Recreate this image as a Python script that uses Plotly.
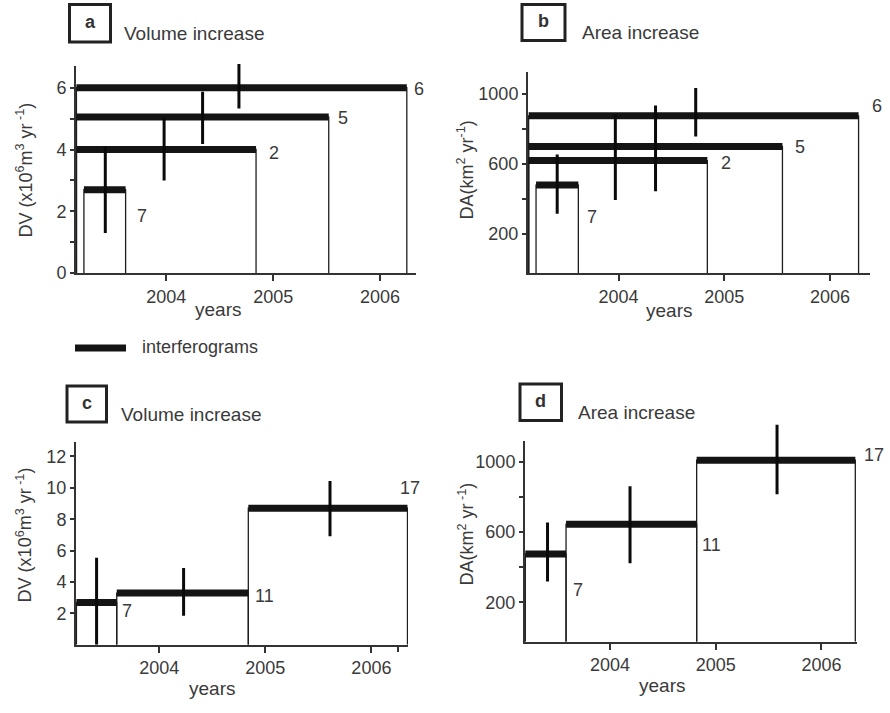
import plotly.graph_objects as go

# ---------------- data ----------------
# Panel a: volume increase, individual interferograms
a_labels = ["7", "2", "5", "6"]
a_start = [2003.23, 2003.16, 2003.16, 2003.16]
a_end = [2003.62, 2004.84, 2005.52, 2006.25]
a_value = [2.7, 4.0, 5.05, 6.0]
a_err_x = [2003.43, 2003.98, 2004.34, 2004.68]
a_err_low = [1.3, 3.0, 4.18, 5.33]
a_err_high = [4.1, 5.03, 5.87, 6.77]

# Panel b: area increase, individual interferograms
b_labels = ["7", "2", "5", "6"]
b_start = [2003.22, 2003.15, 2003.15, 2003.15]
b_end = [2003.62, 2004.84, 2005.55, 2006.27]
b_value = [480, 620, 700, 875]
b_err_x = [2003.42, 2003.97, 2004.35, 2004.73]
b_err_low = [316, 395, 445, 757]
b_err_high = [655, 881, 934, 1033]

# Panel c: volume increase, successive periods
c_labels = ["7", "11", "17"]
c_start = [2003.22, 2003.60, 2004.84]
c_end = [2003.60, 2004.84, 2006.34]
c_value = [2.7, 3.3, 8.7]
c_err_x = [2003.41, 2004.23, 2005.61]
c_err_low = [0.0, 1.85, 6.92]
c_err_high = [5.55, 4.9, 10.44]

# Panel d: area increase, successive periods
d_labels = ["7", "11", "17"]
d_start = [2003.2, 2003.585, 2004.82]
d_end = [2003.585, 2004.82, 2006.32]
d_value = [475, 645, 1010]
d_err_x = [2003.41, 2004.19, 2005.58]
d_err_low = [318, 422, 816]
d_err_high = [655, 862, 1212]

year_ticks = [2004, 2005, 2006]
a_yticks = [0, 2, 4, 6]
b_yticks = [200, 600, 1000]
c_yticks = [2, 4, 6, 8, 10, 12]
d_yticks = [200, 600, 1000]

# ---------------- layout helpers ----------------
W, H = 890, 713
TXT = "#3a3a3a"
LN = "#1e1e1e"
FONT = "Liberation Sans, Arial, sans-serif"


def px_x(p):
    return p / W


def px_y(p):
    return 1 - p / H


EXT = 30  # extra pixels above each panel for error bars that overshoot

panels = [
    dict(key="a", labels=a_labels, start=a_start, end=a_end, value=a_value,
         ex=a_err_x, elo=a_err_low, ehi=a_err_high,
         xd=(76, 416), yd=(277, 67), xr=(2003.156, 2006.336), yr=(0, 6.70),
         yt=a_yticks, ym=[1, 3, 5],
         shifts=[(16, -26), (18, -3), (14, -1), (12, -1)]),
    dict(key="b", labels=b_labels, start=b_start, end=b_end, value=b_value,
         ex=b_err_x, elo=b_err_low, ehi=b_err_high,
         xd=(528, 870), yd=(277, 73), xr=(2003.144, 2006.378), yr=(-22, 1125),
         yt=b_yticks, ym=[400, 800],
         shifts=[(14, -32), (19, -2), (18, 0), (18, 10)]),
    dict(key="c", labels=c_labels, start=c_start, end=c_end, value=c_value,
         ex=c_err_x, elo=c_err_low, ehi=c_err_high,
         xd=(76, 408), yd=(654, 448), xr=(2003.216, 2006.345), yr=(0, 12.94),
         yt=c_yticks, ym=[],
         shifts=[(10, -9), (16, -3), (3, 20)]),
    dict(key="d", labels=d_labels, start=d_start, end=d_end, value=d_value,
         ex=d_err_x, elo=d_err_low, ehi=d_err_high,
         xd=(525, 857), yd=(651, 447), xr=(2003.197, 2006.336), yr=(-26, 1121),
         yt=d_yticks, ym=[400, 800],
         shifts=[(12, -36), (15, -21), (19, 5)]),
]

fig = go.Figure()
annotations = []
shapes = []

for i, p in enumerate(panels):
    n = "" if i == 0 else str(i + 1)
    ne = str(i + 5)
    xa, ya, yext = "x" + n, "y" + n, "y" + ne
    base = p["yr"][0]
    for s, e, v in zip(p["start"], p["end"], p["value"]):
        fig.add_trace(go.Scatter(x=[s, s, e, e], y=[base, v, v, base], mode="lines",
                                 line=dict(color=LN, width=1.3), xaxis=xa, yaxis=ya,
                                 showlegend=False, hoverinfo="skip"))
    for s, e, v in zip(p["start"], p["end"], p["value"]):
        fig.add_trace(go.Scatter(x=[s, e], y=[v, v], mode="lines",
                                 line=dict(color="#141414", width=7), xaxis=xa, yaxis=ya,
                                 showlegend=False, hoverinfo="skip"))
    # error bars on an invisible, taller copy of the y scale (so they are not clipped)
    for x, lo, hi in zip(p["ex"], p["elo"], p["ehi"]):
        fig.add_trace(go.Scatter(x=[x, x], y=[lo, hi], mode="lines",
                                 line=dict(color="#0a0a0a", width=3), xaxis=xa, yaxis=yext,
                                 showlegend=False, hoverinfo="skip"))
    for lab, e, v, (dx, dy) in zip(p["labels"], p["end"], p["value"], p["shifts"]):
        annotations.append(dict(x=e, y=v, xref=xa, yref=ya, text=lab, showarrow=False,
                                xanchor="center", yanchor="middle", xshift=dx, yshift=dy,
                                font=dict(size=18, color=TXT, family=FONT)))

    xaxis = dict(domain=[px_x(p["xd"][0]), px_x(p["xd"][1])], range=list(p["xr"]),
                 anchor=ya, tickvals=year_ticks, ticktext=[str(t) for t in year_ticks],
                 showline=True, linecolor="#333", linewidth=2, ticks="outside",
                 ticklen=6, tickwidth=1.5, tickcolor="#333", showgrid=False, zeroline=False,
                 tickfont=dict(size=18, color=TXT, family=FONT), fixedrange=True)
    if p["key"] == "c":
        xaxis["minor"] = dict(tickvals=[2006.25], ticks="outside", ticklen=5,
                              tickwidth=1.5, tickcolor="#333")
    yaxis = dict(domain=[px_y(p["yd"][0]), px_y(p["yd"][1])], range=list(p["yr"]),
                 anchor=xa, tickvals=p["yt"], ticktext=[str(t) for t in p["yt"]],
                 showline=True, linecolor="#333", linewidth=2, ticks="outside",
                 ticklen=4, tickwidth=1.5, tickcolor="#333", showgrid=False, zeroline=False,
                 tickfont=dict(size=18, color=TXT, family=FONT), fixedrange=True)
    if p["ym"]:
        yaxis["minor"] = dict(tickvals=p["ym"], ticks="outside", ticklen=4,
                              tickwidth=1.5, tickcolor="#333")
    r0, r1 = p["yr"]
    bottom, top = p["yd"]
    r1e = r0 + (r1 - r0) * (bottom - (top - EXT)) / (bottom - top)
    yext_ax = dict(domain=[px_y(bottom), px_y(top - EXT)], range=[r0, r1e], anchor=xa,
                   visible=False, showgrid=False, zeroline=False, fixedrange=True)
    fig.layout["xaxis" + n] = xaxis
    fig.layout["yaxis" + n] = yaxis
    fig.layout["yaxis" + ne] = yext_ax

# panel letter boxes and titles
boxes = [("a", 69.5, 110.5, 4.5, 42.5, "Volume increase", 122, 34),
         ("b", 522, 565, 4.5, 41, "Area increase", 580, 33),
         ("c", 67, 106.5, 391.5, 428, "Volume increase", 119, 420),
         ("d", 520, 561.5, 389.5, 426.5, "Area increase", 576, 418)]
for letter, x0, x1, y0, y1, title, tx, ty in boxes:
    shapes.append(dict(type="rect", xref="paper", yref="paper",
                       x0=px_x(x0), x1=px_x(x1), y0=px_y(y1), y1=px_y(y0),
                       line=dict(color="#222", width=3), fillcolor="rgba(0,0,0,0)"))
    annotations.append(dict(x=px_x((x0 + x1) / 2), y=px_y((y0 + y1) / 2 - 1), xref="paper",
                            yref="paper", text="<b>%s</b>" % letter, showarrow=False,
                            xanchor="center", yanchor="middle",
                            font=dict(size=18, color="#333", family=FONT)))
    annotations.append(dict(x=px_x(tx), y=px_y(ty), xref="paper", yref="paper", text=title,
                            showarrow=False, xanchor="left", yanchor="middle",
                            font=dict(size=19, color=TXT, family=FONT)))

# axis titles
ytitles = [("DV (x10<sup>6</sup>m<sup>3</sup> yr<sup> -1</sup>)", 25, 173),
           ("DA(km<sup>2</sup> yr<sup>-1</sup>)", 466, 173),
           ("DV (x10<sup>6</sup>m<sup>3</sup> yr<sup> -1</sup>)", 24, 543),
           ("DA(km<sup>2</sup> yr<sup> -1</sup>)", 466, 542)]
for t, x, y in ytitles:
    annotations.append(dict(x=px_x(x), y=px_y(y), xref="paper", yref="paper", text=t,
                            textangle=-90, showarrow=False, xanchor="center", yanchor="middle",
                            font=dict(size=18, color=TXT, family=FONT)))
for x, y in [(218, 314), (669, 315), (212, 698), (662, 695)]:
    annotations.append(dict(x=px_x(x), y=px_y(y), xref="paper", yref="paper", text="years",
                            showarrow=False, xanchor="center", yanchor="middle",
                            font=dict(size=19, color=TXT, family=FONT)))

# legend
shapes.append(dict(type="line", xref="paper", yref="paper", x0=px_x(75), x1=px_x(126),
                   y0=px_y(353), y1=px_y(353), line=dict(color="#141414", width=7)))
annotations.append(dict(x=px_x(140), y=px_y(352), xref="paper", yref="paper",
                        text="interferograms", showarrow=False, xanchor="left",
                        yanchor="middle", font=dict(size=18, color=TXT, family=FONT)))

fig.update_layout(width=W, height=H, margin=dict(l=0, r=0, t=0, b=0),
                  paper_bgcolor="white", plot_bgcolor="rgba(0,0,0,0)",
                  annotations=annotations, shapes=shapes, showlegend=False)

fig.write_html("out.html", config={"displayModeBar": False},
               post_script="document.body.style.margin='0';document.body.style.padding='0';")
